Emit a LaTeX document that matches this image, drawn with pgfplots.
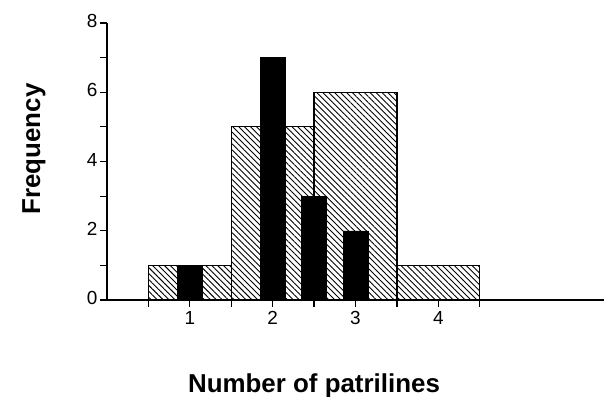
\documentclass[border=0pt]{standalone}
\usepackage{pgfplots}
\pgfplotsset{compat=1.18}
\usetikzlibrary{patterns.meta}
\usepackage{fontspec}
\setmainfont{Liberation Sans}
\newcommand{\tickfont}{\fontsize{19}{21}\selectfont}
\begin{document}
\begin{tikzpicture}
\useasboundingbox (0,0) rectangle (604bp,397bp);
\begin{axis}[
  at={(107bp,97bp)}, anchor=south west,
  scale only axis, width=497bp, height=277bp,
  xmin=0, xmax=6, ymin=0, ymax=8,
  axis x line=bottom, axis y line=left,
  axis line style={-, line width=1.6pt},
  xtick={1,2,3,4},
  xticklabels={{\tickfont 1},{\tickfont 2},{\tickfont 3},{\tickfont 4}},
  extra x ticks={0.5,1.5,2.5,3.5,4.5},
  extra x tick labels={},
  ytick={0,2,4,6,8},
  yticklabels={{\tickfont 0},{\tickfont 2},{\tickfont 4},{\tickfont 6},{\tickfont 8}},
  minor ytick={1,3,5,7},
  tick align=outside,
  major tick length=7bp, minor tick length=7bp,
  tick style={black, line width=1.2pt},
  xticklabel style={yshift=-1bp},
  yticklabel style={xshift=1bp, yshift=2bp},
  clip=false,
]
\addplot[ybar interval, draw=black, line width=1.2pt,
  pattern={Lines[angle=-45,distance=4.2pt,line width=0.9pt]}]
  coordinates {(0.5,1)(1.5,5)(2.5,6)(3.5,1)(4.5,1)};
\addplot[ybar, bar width=25bp, bar shift=0pt, fill=black, draw=black]
  coordinates {(1,1)(2,7)(2.5,3)(3,2)};
\end{axis}
\node[font=\bfseries\fontsize{26}{30}\selectfont, anchor=base] at (314bp,5bp) {Number of patrilines};
\node[font=\bfseries\fontsize{26}{30}\selectfont, rotate=90, anchor=center] at (34bp,248bp) {Frequency};
\end{tikzpicture}
\end{document}
